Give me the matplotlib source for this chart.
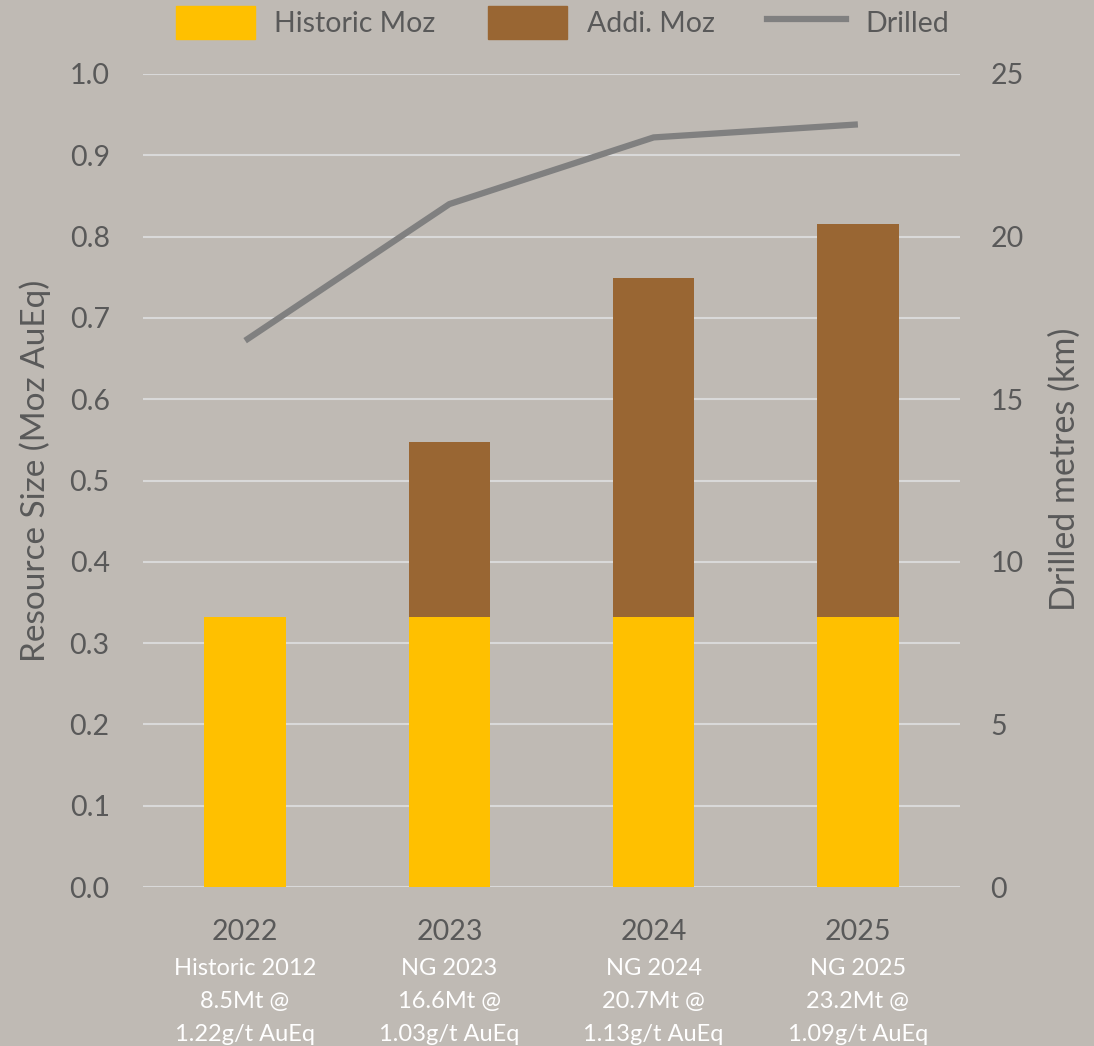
import matplotlib
matplotlib.use("Agg")
import matplotlib.pyplot as plt
from matplotlib.patches import Patch
from matplotlib.lines import Line2D
import numpy as np

years = ["2022", "2023", "2024", "2025"]
sublabels = ["Historic 2012\n8.5Mt @\n1.22g/t AuEq",
             "NG 2023\n16.6Mt @\n1.03g/t AuEq",
             "NG 2024\n20.7Mt @\n1.13g/t AuEq",
             "NG 2025\n23.2Mt @\n1.09g/t AuEq"]
historic_moz = [0.332, 0.332, 0.332, 0.332]
addi_moz = [0.0, 0.215, 0.417, 0.483]
drilled_km = [16.8, 21.0, 23.05, 23.45]

BG = "#BFBAB4"
TXT = "#595959"
plt.rcParams['font.family'] = ['Lato', 'DejaVu Sans']

fig = plt.figure(figsize=(10.94, 10.46), dpi=100, facecolor=BG)
W, H = 1094, 1046
ax = fig.add_axes([143 / W, 1 - 887 / H, (960 - 143) / W, (887 - 74) / H])
ax.set_facecolor(BG)
x = np.arange(len(years))
ax.bar(x, historic_moz, width=0.4, color="#FFC000", zorder=3, label="Historic Moz")
ax.bar(x, addi_moz, width=0.4, bottom=historic_moz, color="#996633", zorder=3, label="Addi. Moz")
ax.set_xlim(-0.5, 3.5)
ax.set_ylim(0, 1.0)
ax.set_yticks(np.arange(0, 1.01, 0.1))
ax.set_yticklabels([f"{v:.1f}" for v in np.arange(0, 1.01, 0.1)])
ax.grid(axis='y', color="#D9D9D9", linewidth=1.5, zorder=0)
ax.set_axisbelow(True)
for s in ax.spines.values():
    s.set_visible(False)
ax.tick_params(axis='y', length=0, labelsize=20.5, colors=TXT, pad=24)
ax.set_xticks(x)
ax.set_xticklabels(years, fontsize=20.5, color=TXT)
ax.tick_params(axis='x', length=0, colors=TXT, pad=23)
ax.set_ylabel("Resource Size (Moz AuEq)", fontsize=24, color=TXT, labelpad=13, y=0.512)

for xi, sl in zip(x, sublabels):
    ax.annotate(sl, xy=(xi, 0), xycoords=('data', 'axes fraction'),
                xytext=(0, -51), textcoords='offset points', ha='center', va='top',
                fontsize=17, color="white", linespacing=1.7)

ax2 = ax.twinx()
ax2.plot(x, drilled_km, color="#808080", linewidth=4.5, zorder=4, solid_capstyle='butt')
ax2.set_ylim(0, 25)
ax2.set_yticks([0, 5, 10, 15, 20, 25])
for s in ax2.spines.values():
    s.set_visible(False)
ax2.tick_params(axis='y', length=0, labelsize=20.5, colors=TXT, pad=22)
ax2.set_ylabel("Drilled metres (km)", fontsize=24.5, color=TXT, labelpad=18, y=0.514)

handles = [Patch(color="#FFC000"), Patch(color="#996633"),
           Line2D([0], [0], color="#808080", linewidth=4.5)]
fig.legend(handles, ["Historic Moz", "Addi. Moz", "Drilled"], loc='upper center',
           bbox_to_anchor=(0.514, 1.019), ncol=3, frameon=False, fontsize=20.5,
           labelcolor=TXT, handlelength=2.8, handleheight=1.4, columnspacing=1.83,
           handletextpad=0.67)

fig.savefig("out.png", dpi=100, facecolor=BG)
